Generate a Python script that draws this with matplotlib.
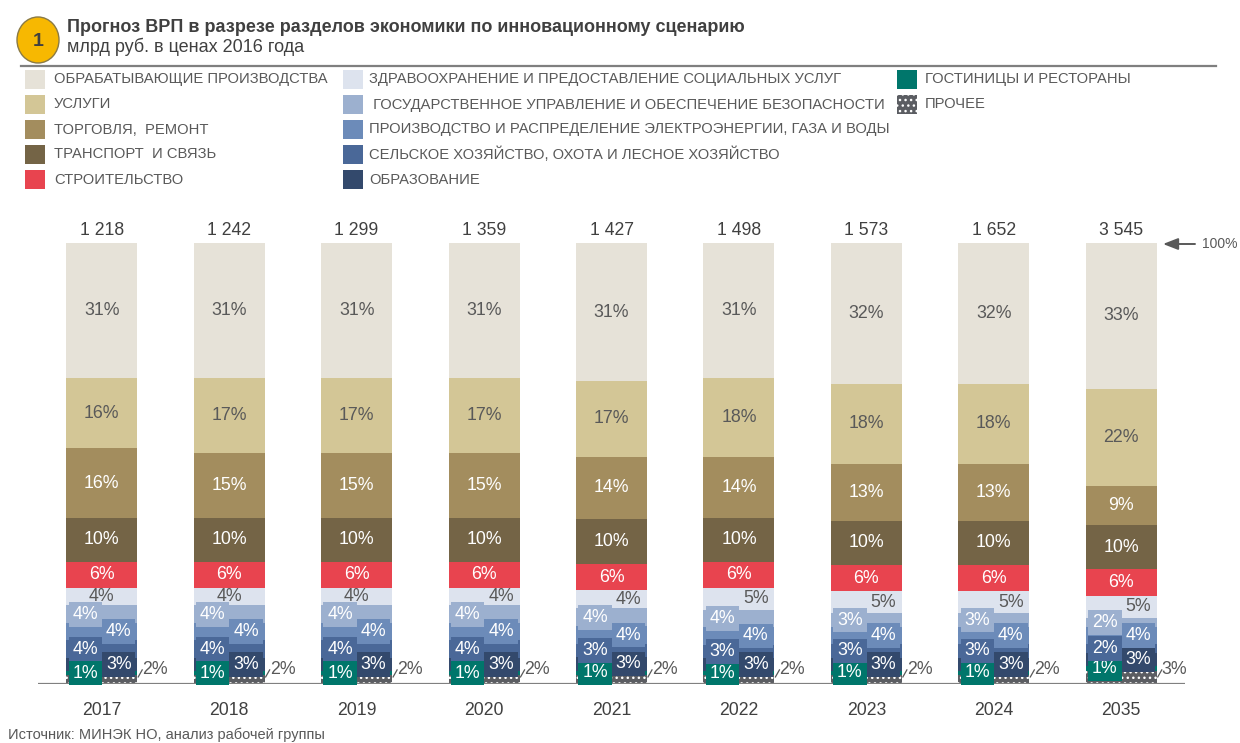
import matplotlib
matplotlib.use('Agg')
import matplotlib.pyplot as plt
from matplotlib.patches import Rectangle, Ellipse, FancyArrowPatch
from matplotlib import font_manager
import numpy as np

# ---------------- data ----------------
years = ['2017', '2018', '2019', '2020', '2021', '2022', '2023', '2024', '2035']
totals = ['1 218', '1 242', '1 299', '1 359', '1 427', '1 498', '1 573', '1 652', '3 545']

# shares, % (bottom -> top)
prochee      = [2, 2, 2, 2, 2, 2, 2, 2, 3]
gostinicy    = [1, 1, 1, 1, 1, 1, 1, 1, 1]
obrazovanie  = [3, 3, 3, 3, 3, 3, 3, 3, 3]
selskoe      = [4, 4, 4, 4, 3, 3, 3, 3, 2]
elektro      = [4, 4, 4, 4, 4, 4, 4, 4, 4]
gosupr       = [4, 4, 4, 4, 4, 4, 3, 3, 2]
zdrav        = [4, 4, 4, 4, 4, 5, 5, 5, 5]
stroit       = [6, 6, 6, 6, 6, 6, 6, 6, 6]
transport    = [10, 10, 10, 10, 10, 10, 10, 10, 10]
torgovlya    = [16, 15, 15, 15, 14, 14, 13, 13, 9]
uslugi       = [16, 17, 17, 17, 17, 18, 18, 18, 22]
obrab        = [31, 31, 31, 31, 31, 31, 32, 32, 33]

names = {
    'obrab': 'ОБРАБАТЫВАЮЩИЕ ПРОИЗВОДСТВА',
    'uslugi': 'УСЛУГИ',
    'torgovlya': 'ТОРГОВЛЯ,  РЕМОНТ',
    'transport': 'ТРАНСПОРТ  И СВЯЗЬ',
    'stroit': 'СТРОИТЕЛЬСТВО',
    'zdrav': 'ЗДРАВООХРАНЕНИЕ И ПРЕДОСТАВЛЕНИЕ СОЦИАЛЬНЫХ УСЛУГ',
    'gosupr': ' ГОСУДАРСТВЕННОЕ УПРАВЛЕНИЕ И ОБЕСПЕЧЕНИЕ БЕЗОПАСНОСТИ',
    'elektro': 'ПРОИЗВОДСТВО И РАСПРЕДЕЛЕНИЕ ЭЛЕКТРОЭНЕРГИИ, ГАЗА И ВОДЫ',
    'selskoe': 'СЕЛЬСКОЕ ХОЗЯЙСТВО, ОХОТА И ЛЕСНОЕ ХОЗЯЙСТВО',
    'obrazovanie': 'ОБРАЗОВАНИЕ',
    'gostinicy': 'ГОСТИНИЦЫ И РЕСТОРАНЫ',
    'prochee': 'ПРОЧЕЕ',
}
health_pos = ['c', 'c', 'c', 'r', 'r', 'r', 'r', 'r', 'r']

# ---------------- styles ----------------
DARK = '#404040'
GREY = '#595959'
colors = {
    'obrab': '#E6E2D8', 'uslugi': '#D3C696', 'torgovlya': '#A38D5E',
    'transport': '#746446', 'stroit': '#E8444F', 'zdrav': '#DDE3EE',
    'gosupr': '#9CB0CF', 'elektro': '#6C8BB9', 'selskoe': '#4A6898',
    'obrazovanie': '#33496C', 'gostinicy': '#00766B', 'prochee': '#5B5D62',
}
# (key, values, text colour, label position, boxed)
stack = [
    ('prochee', prochee, GREY, 'out', False),
    ('gostinicy', gostinicy, 'white', 'l', True),
    ('obrazovanie', obrazovanie, 'white', 'r', True),
    ('selskoe', selskoe, 'white', 'l', True),
    ('elektro', elektro, 'white', 'r', True),
    ('gosupr', gosupr, 'white', 'l', True),
    ('zdrav', zdrav, GREY, 'health', False),
    ('stroit', stroit, 'white', 'c', False),
    ('transport', transport, 'white', 'c', False),
    ('torgovlya', torgovlya, 'white', 'c', False),
    ('uslugi', uslugi, GREY, 'c', False),
    ('obrab', obrab, GREY, 'c', False),
]

avail = {f.name for f in font_manager.fontManager.ttflist}
BASE = ['Liberation Sans', 'DejaVu Sans']
if 'Liberation Sans Narrow' in avail:
    NARROW = ['Liberation Sans Narrow', 'Liberation Sans', 'DejaVu Sans']
    leg_fs, title_fs, sub_fs = 12.6, 15.5, 15.5
else:
    NARROW = BASE
    leg_fs, title_fs, sub_fs = 10.6, 12.95, 13.0
plt.rcParams['font.family'] = BASE

W, H = 1240, 743
fig = plt.figure(figsize=(W / 100, H / 100), dpi=100)

# overlay axes in pixel coordinates for header / legend
ov = fig.add_axes([0, 0, 1, 1])
ov.set_xlim(0, W)
ov.set_ylim(H, 0)
ov.axis('off')

# main chart axes
ax = fig.add_axes([38 / W, (H - 684) / H, 1147 / W, 441 / H])
ax.patch.set_visible(False)
ax.set_xlim(-0.5, len(years) - 0.5)
ax.set_ylim(0, 100)
for s in ax.spines.values():
    s.set_visible(False)
ax.set_yticks([])
ax.tick_params(axis='x', length=0, pad=13, labelsize=12.7, labelcolor=DARK)
ax.set_xticks(range(len(years)))
ax.set_xticklabels(years)
ax.axhline(0, color='#808080', lw=1.6, zorder=6)

x = np.arange(len(years))
bw = 0.557
col_sum = np.sum([np.array(v, float) for _, v, *_ in stack], axis=0)
bottom = np.zeros(len(years))
px = 1 / 127.5  # one pixel in x data units
for key, vals, tcol, pos, boxed in stack:
    v = np.array(vals, float)
    h = v / col_sum * 100
    kw = dict(color=colors[key], lw=0, zorder=2)
    if key == 'prochee':
        kw = dict(facecolor=colors[key], edgecolor='white', hatch='...', lw=0, zorder=2)
    ax.bar(x, h, bw, bottom=bottom, **kw)
    mids = bottom + h / 2
    for i in range(len(years)):
        lab = f'{vals[i]}%'
        if pos == 'out':
            xr = x[i] + bw / 2
            ax.plot([xr + 1 * px, xr + 5 * px], [1.6, 3.2], color=GREY, lw=0.9,
                    zorder=6, clip_on=False)
            ax.text(xr + 5 * px, 3.4, lab, ha='left', va='center', fontsize=12.8,
                    color=GREY, zorder=7, clip_on=False)
            continue
        if pos == 'health':
            p = health_pos[i]
        else:
            p = pos
        dx = {'c': 0, 'l': -16.5 * px, 'r': 17 * px}[p]
        bbox = None
        if boxed:
            bbox = dict(boxstyle='square,pad=0.22', fc=colors[key], ec='none')
        ax.text(x[i] + dx, mids[i], lab, ha='center', va='center', fontsize=12.8,
                color=tcol, zorder=7, bbox=bbox)
    bottom = bottom + h

for i in range(len(years)):
    ax.text(x[i], 101.0, totals[i], ha='center', va='bottom', fontsize=12.7,
            color=DARK, clip_on=False)

# arrow "100%"
ov.add_patch(FancyArrowPatch((1195, 244), (1163, 244),
                             arrowstyle='-|>,head_length=0.9,head_width=0.35',
                             mutation_scale=10, color=GREY, lw=1.4,
                             shrinkA=0, shrinkB=0))
ov.text(1202, 244, '100%', ha='left', va='center', fontsize=10, color=GREY)

# header
ov.add_patch(Ellipse((38, 40), 42, 46, fc='#F7B801', ec='#8A7A45', lw=1.0))
ov.text(38, 41, '1', ha='center', va='center', fontsize=14, fontweight='bold',
        color=DARK)
ov.text(67, 27, 'Прогноз ВРП в разрезе разделов экономики по инновационному сценарию',
        ha='left', va='center', fontsize=title_fs, fontweight='bold', color=DARK,
        family=NARROW)
ov.text(67, 47, 'млрд руб. в ценах 2016 года', ha='left', va='center',
        fontsize=sub_fs, color=DARK, family=NARROW)
ov.plot([21, 1216], [66, 66], color='#7F7F7F', lw=1.6)

# legend
columns = [
    (25, 54, ['obrab', 'uslugi', 'torgovlya', 'transport', 'stroit']),
    (343, 369, ['zdrav', 'gosupr', 'elektro', 'selskoe', 'obrazovanie']),
    (897, 925, ['gostinicy', 'prochee']),
]
for sx, tx, keys in columns:
    for r, key in enumerate(keys):
        y = 79 + 25 * r
        if key == 'prochee':
            ov.add_patch(Rectangle((sx, y - 9.5), 20, 19, fc=colors[key], ec='white',
                                   hatch='...', lw=0))
        else:
            ov.add_patch(Rectangle((sx, y - 9.5), 20, 19, fc=colors[key], ec='none'))
        ov.text(tx, y + 0.5, names[key], ha='left', va='center', fontsize=leg_fs,
                color=GREY, family=NARROW)

ov.text(8, 735, 'Источник: МИНЭК НО, анализ рабочей группы', ha='left', va='center',
        fontsize=10.5, color=GREY, family=NARROW)

fig.savefig('out.png', dpi=100)
